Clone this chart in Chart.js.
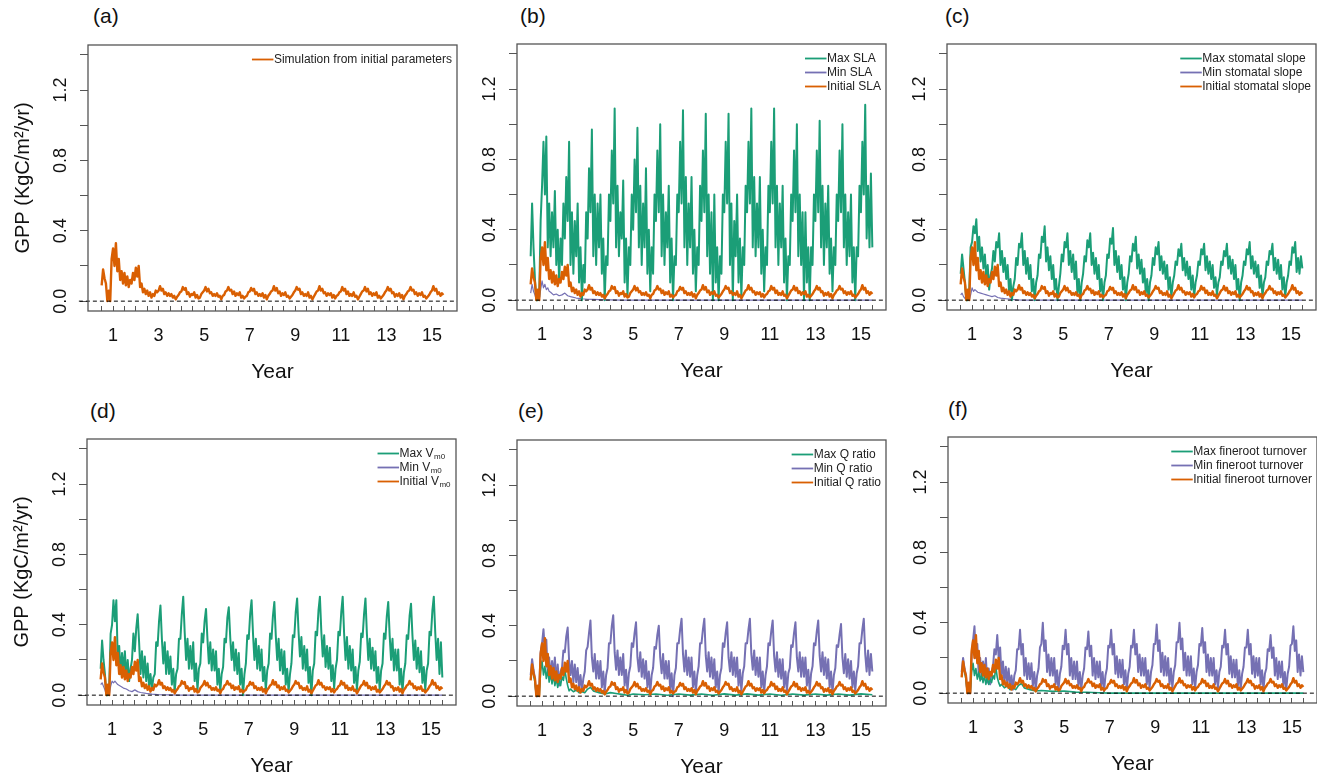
<!DOCTYPE html>
<html><head><meta charset="utf-8">
<script src="https://cdn.jsdelivr.net/npm/chart.js@4.4.1/dist/chart.umd.min.js"></script>
<style>
html,body{margin:0;padding:0;background:#fff;overflow:hidden;width:1317px;height:780px;position:relative;}
canvas{position:absolute;}
.plabel{position:absolute;font:21px 'Liberation Sans',Arial,sans-serif;line-height:24px;color:#111;white-space:nowrap;}
</style></head><body>
<script>
// ---------- axis ticks ----------
const xTickValues = [0.5,1,1.5,2,2.5,3,3.5,4,4.5,5,5.5,6,6.5,7,7.5,8,8.5,9,9.5,10,10.5,11,11.5,12,12.5,13,13.5,14,14.5,15,15.5];
const xLabelValues = [1,3,5,7,9,11,13,15];
const yTickValues = [0,0.2,0.4,0.6,0.8,1.0,1.2,1.4];
const yLabelValues = [0,0.4,0.8,1.2];
const zeroLineX = [-0.5, 16.1];

// ---------- series (chunk 0 = years 0.5-0.94, chunk n = year n, 1/16-year steps) ----------
const initialSim = [
 [0.09,0.18,0.13,0.10,0.0,0.06,0.0,0.24],
 [0.30,0.20,0.33,0.17,0.24,0.12,0.17,0.10,0.16,0.09,0.14,0.08,0.12,0.10,0.16,0.12],
 [0.19,0.14,0.20,0.08,0.10,0.05,0.07,0.04,0.06,0.03,0.05,0.02,0.04,0.03,0.06,0.05],
 [0.06,0.085,0.06,0.07,0.04,0.05,0.03,0.045,0.03,0.04,0.02,0.03,0.01,0.025,0.035,0.05],
 [0.055,0.08,0.065,0.075,0.04,0.05,0.025,0.04,0.035,0.05,0.02,0.035,0.015,0.02,0.04,0.05],
 [0.06,0.08,0.055,0.07,0.045,0.05,0.03,0.04,0.03,0.045,0.025,0.03,0.01,0.03,0.035,0.055],
 [0.06,0.08,0.06,0.065,0.04,0.055,0.03,0.045,0.035,0.05,0.02,0.03,0.015,0.025,0.03,0.05],
 [0.055,0.075,0.06,0.07,0.04,0.05,0.03,0.04,0.03,0.045,0.02,0.035,0.01,0.03,0.04,0.055],
 [0.06,0.085,0.06,0.075,0.045,0.055,0.03,0.045,0.035,0.05,0.025,0.03,0.015,0.025,0.035,0.05],
 [0.06,0.08,0.065,0.07,0.04,0.05,0.03,0.04,0.03,0.05,0.02,0.03,0.01,0.025,0.04,0.055],
 [0.06,0.085,0.06,0.07,0.045,0.05,0.03,0.045,0.035,0.045,0.02,0.035,0.015,0.03,0.035,0.05],
 [0.055,0.08,0.06,0.07,0.04,0.055,0.03,0.04,0.03,0.05,0.025,0.03,0.01,0.025,0.04,0.055],
 [0.06,0.08,0.055,0.07,0.04,0.05,0.03,0.045,0.035,0.05,0.02,0.03,0.015,0.025,0.035,0.05],
 [0.06,0.08,0.06,0.07,0.045,0.05,0.025,0.04,0.03,0.045,0.02,0.035,0.01,0.03,0.04,0.055],
 [0.06,0.08,0.06,0.065,0.04,0.05,0.03,0.045,0.035,0.05,0.025,0.03,0.015,0.025,0.035,0.05],
 [0.06,0.085,0.06,0.07,0.04,0.05,0.03,0.045,0.035]
];
const maxSLA = [
 [0.25,0.55,0.3,0.12,0.0,0.0,0.02,0.45],
 [0.65,0.9,0.6,0.93,0.3,0.55,0.25,0.5,0.3,0.62,0.2,0.4,0.1,0.35,0.2,0.55],
 [0.35,0.7,0.45,0.9,0.2,0.5,0.15,0.45,0.25,0.55,0.1,0.3,0.0,0.2,0.1,0.5],
 [0.35,0.75,0.5,0.97,0.25,0.6,0.2,0.55,0.3,0.6,0.15,0.35,0.0,0.25,0.2,0.6],
 [0.45,0.85,0.55,1.09,0.3,0.65,0.25,0.5,0.35,0.68,0.1,0.35,0.02,0.3,0.2,0.6],
 [0.4,0.8,0.5,0.98,0.3,0.65,0.2,0.55,0.3,0.75,0.15,0.4,0.05,0.3,0.15,0.6],
 [0.45,0.85,0.5,1.0,0.25,0.6,0.2,0.5,0.3,0.65,0.1,0.35,0.0,0.25,0.2,0.6],
 [0.5,0.9,0.55,1.08,0.3,0.7,0.2,0.55,0.3,0.7,0.15,0.4,0.05,0.3,0.2,0.65],
 [0.45,0.85,0.5,1.06,0.25,0.6,0.15,0.5,0.0,0.6,0.1,0.3,0.0,0.25,0.15,0.6],
 [0.5,0.9,0.55,1.06,0.2,0.55,0.0,0.45,0.25,0.6,0.1,0.35,0.02,0.3,0.2,0.65],
 [0.5,0.9,0.55,1.09,0.3,0.7,0.25,0.55,0.3,0.7,0.15,0.4,0.05,0.3,0.2,0.65],
 [0.5,0.9,0.55,1.09,0.3,0.65,0.2,0.55,0.3,0.65,0.1,0.35,0.0,0.25,0.2,0.6],
 [0.45,0.85,0.5,1.0,0.25,0.6,0.2,0.5,0.0,0.5,0.1,0.3,0.0,0.3,0.2,0.6],
 [0.45,0.85,0.5,1.02,0.3,0.65,0.2,0.55,0.3,0.65,0.15,0.35,0.05,0.3,0.2,0.6],
 [0.45,0.85,0.5,1.0,0.3,0.6,0.2,0.5,0.25,0.6,0.1,0.3,0.0,0.3,0.25,0.65],
 [0.5,0.9,0.6,1.11,0.35,0.65,0.3,0.72,0.3]
];
const minSLA_t = [0.5,0.5625,0.625,0.6875,0.75,0.875,0.9375,1.0,1.0625,1.125,1.1875,1.25,1.3125,1.375,1.5,1.625,1.75,1.875,2.0,2.125,2.25,2.5,2.75,3.0,3.25,3.5,4.0,4.5,15.5];
const minSLA   = [0.04,0.09,0.05,0.03,0.0,0.0,0.06,0.11,0.07,0.09,0.06,0.07,0.05,0.045,0.03,0.035,0.025,0.03,0.04,0.025,0.02,0.012,0.008,0.005,0.004,0.003,0.001,0,0];

const maxStomatal = [
 [0.15,0.26,0.18,0.1,0.0,0.0,0.05,0.3],
 [0.33,0.42,0.38,0.46,0.28,0.36,0.22,0.3,0.18,0.26,0.12,0.2,0.06,0.14,0.18,0.28],
 [0.22,0.33,0.3,0.38,0.2,0.28,0.16,0.24,0.12,0.2,0.05,0.12,0.0,0.08,0.12,0.24],
 [0.2,0.32,0.3,0.38,0.2,0.28,0.15,0.24,0.12,0.2,0.05,0.12,0.0,0.1,0.14,0.26],
 [0.24,0.36,0.33,0.42,0.22,0.3,0.17,0.25,0.12,0.2,0.06,0.12,0.0,0.08,0.15,0.26],
 [0.22,0.33,0.3,0.38,0.2,0.28,0.16,0.26,0.12,0.22,0.04,0.12,0.0,0.1,0.15,0.25],
 [0.22,0.34,0.3,0.38,0.2,0.27,0.15,0.24,0.12,0.2,0.05,0.12,0.0,0.1,0.14,0.26],
 [0.24,0.35,0.32,0.41,0.2,0.28,0.16,0.25,0.12,0.2,0.06,0.13,0.0,0.1,0.15,0.25],
 [0.22,0.32,0.28,0.36,0.18,0.26,0.15,0.23,0.1,0.18,0.04,0.12,0.0,0.1,0.14,0.24],
 [0.2,0.3,0.26,0.33,0.17,0.25,0.15,0.22,0.12,0.2,0.06,0.13,0.02,0.1,0.14,0.22],
 [0.2,0.29,0.25,0.32,0.17,0.24,0.14,0.22,0.12,0.19,0.06,0.14,0.02,0.1,0.14,0.22],
 [0.2,0.29,0.26,0.32,0.17,0.25,0.15,0.22,0.12,0.2,0.07,0.13,0.03,0.1,0.13,0.22],
 [0.2,0.28,0.25,0.32,0.18,0.25,0.15,0.23,0.12,0.2,0.06,0.12,0.0,0.1,0.14,0.22],
 [0.2,0.29,0.26,0.33,0.18,0.25,0.15,0.22,0.13,0.2,0.07,0.14,0.02,0.1,0.13,0.22],
 [0.2,0.28,0.26,0.32,0.17,0.24,0.15,0.23,0.12,0.2,0.06,0.13,0.02,0.1,0.14,0.22],
 [0.2,0.3,0.27,0.33,0.16,0.24,0.15,0.25,0.18]
];
const minStomatal_t = [0.5,0.5625,0.625,0.6875,0.75,0.875,0.9375,1.0,1.0625,1.125,1.25,1.375,1.5,1.625,1.75,1.875,2.0,2.125,2.25,2.5,2.75,3.0,3.5,15.5];
const minStomatal   = [0.03,0.04,0.02,0.01,0.0,0.0,0.03,0.07,0.05,0.06,0.045,0.04,0.035,0.03,0.025,0.02,0.025,0.015,0.012,0.008,0.004,0.002,0.0,0.0];

const maxVm0 = [
 [0.15,0.31,0.2,0.12,0.0,0.0,0.05,0.35],
 [0.4,0.54,0.42,0.54,0.2,0.28,0.12,0.24,0.14,0.25,0.1,0.2,0.08,0.15,0.2,0.35],
 [0.25,0.38,0.46,0.3,0.12,0.25,0.1,0.22,0.08,0.18,0.05,0.12,0.03,0.1,0.12,0.3],
 [0.28,0.42,0.51,0.32,0.18,0.3,0.12,0.25,0.12,0.22,0.06,0.15,0.02,0.12,0.15,0.32],
 [0.32,0.46,0.56,0.36,0.2,0.32,0.15,0.28,0.15,0.3,0.08,0.18,0.03,0.15,0.18,0.35],
 [0.3,0.42,0.49,0.32,0.18,0.3,0.14,0.26,0.14,0.25,0.06,0.15,0.02,0.12,0.16,0.32],
 [0.3,0.44,0.5,0.33,0.2,0.3,0.14,0.26,0.12,0.24,0.06,0.15,0.0,0.12,0.18,0.34],
 [0.32,0.46,0.54,0.35,0.2,0.32,0.15,0.28,0.14,0.26,0.08,0.16,0.03,0.14,0.18,0.35],
 [0.32,0.45,0.53,0.34,0.2,0.32,0.14,0.26,0.12,0.25,0.06,0.15,0.02,0.12,0.18,0.34],
 [0.33,0.47,0.55,0.36,0.22,0.33,0.15,0.28,0.14,0.26,0.07,0.16,0.0,0.14,0.18,0.36],
 [0.34,0.48,0.56,0.36,0.22,0.34,0.16,0.28,0.15,0.27,0.08,0.17,0.04,0.15,0.2,0.36],
 [0.34,0.47,0.56,0.35,0.2,0.33,0.15,0.28,0.14,0.26,0.07,0.16,0.03,0.14,0.19,0.35],
 [0.33,0.46,0.55,0.35,0.2,0.32,0.15,0.27,0.14,0.25,0.07,0.16,0.03,0.14,0.18,0.35],
 [0.32,0.45,0.53,0.34,0.2,0.32,0.14,0.26,0.14,0.26,0.06,0.15,0.02,0.13,0.18,0.34],
 [0.32,0.45,0.52,0.34,0.2,0.31,0.15,0.27,0.13,0.25,0.07,0.16,0.03,0.14,0.18,0.36],
 [0.34,0.48,0.56,0.36,0.2,0.32,0.12,0.3,0.1]
];
const minVm0_t = [0.5,0.5625,0.625,0.6875,0.75,0.875,0.9375,1.0,1.0625,1.125,1.25,1.375,1.5,1.625,1.75,1.875,2.0,2.125,2.25,2.5,2.75,3.0,3.5,4.0,15.5];
const minVm0   = [0.06,0.07,0.05,0.03,0.0,0.0,0.05,0.08,0.07,0.08,0.06,0.05,0.04,0.035,0.025,0.02,0.03,0.02,0.015,0.01,0.006,0.003,0.001,0,0];

const maxQ_t = [0.5,0.5625,0.625,0.6875,0.75,0.875,0.9375,1.0,1.0625,1.125,1.1875,1.25,1.3125,1.375,1.4375,1.5,1.5625,1.625,1.6875,1.75,1.8125,1.875,1.9375,2.0,2.0625,2.125,2.1875,2.25,2.375,2.5,2.625,2.75,2.875,3.0,3.125,3.25,3.5,3.75,4.0,4.25,4.5,4.75,5.0,5.5,6.0,6.5,7.0,7.5,8.0,8.5,9.0,9.5,10.0,10.5,11.0,11.5,12.0,12.5,13.0,13.5,14.0,14.5,15.0,15.5];
const maxQ   = [0.1,0.17,0.12,0.08,0.0,0.0,0.14,0.2,0.12,0.17,0.1,0.15,0.08,0.13,0.07,0.12,0.06,0.1,0.05,0.09,0.06,0.11,0.09,0.15,0.1,0.06,0.03,0.04,0.025,0.035,0.02,0.025,0.02,0.04,0.05,0.03,0.02,0.012,0.02,0.015,0.01,0.005,0.012,0.008,0.012,0.005,0.012,0.006,0.012,0.005,0.013,0.006,0.013,0.006,0.012,0.005,0.012,0.006,0.012,0.006,0.012,0.006,0.013,0.008];
const minQ = [
 [0.12,0.21,0.15,0.1,0.0,0.0,0.05,0.25],
 [0.3,0.38,0.25,0.32,0.12,0.22,0.1,0.2,0.12,0.22,0.08,0.18,0.06,0.14,0.16,0.26],
 [0.25,0.34,0.39,0.2,0.12,0.2,0.08,0.18,0.08,0.16,0.05,0.12,0.03,0.1,0.14,0.26],
 [0.28,0.36,0.43,0.22,0.14,0.24,0.1,0.2,0.1,0.2,0.05,0.14,0.02,0.12,0.16,0.3],
 [0.3,0.4,0.46,0.25,0.15,0.26,0.12,0.22,0.12,0.24,0.06,0.15,0.03,0.13,0.17,0.3],
 [0.28,0.36,0.42,0.22,0.14,0.25,0.11,0.21,0.1,0.2,0.05,0.14,0.02,0.12,0.16,0.28],
 [0.27,0.35,0.4,0.22,0.13,0.24,0.1,0.2,0.1,0.2,0.04,0.13,0.0,0.12,0.16,0.3],
 [0.3,0.38,0.44,0.24,0.14,0.26,0.12,0.22,0.11,0.22,0.05,0.14,0.02,0.12,0.17,0.3],
 [0.3,0.38,0.44,0.23,0.14,0.25,0.11,0.22,0.1,0.21,0.05,0.14,0.02,0.12,0.16,0.3],
 [0.28,0.36,0.42,0.22,0.14,0.25,0.12,0.22,0.11,0.22,0.06,0.15,0.03,0.13,0.17,0.3],
 [0.3,0.38,0.44,0.24,0.15,0.26,0.12,0.22,0.11,0.22,0.05,0.14,0.02,0.12,0.17,0.3],
 [0.29,0.37,0.43,0.23,0.14,0.25,0.11,0.21,0.1,0.21,0.05,0.14,0.03,0.13,0.16,0.29],
 [0.28,0.36,0.42,0.22,0.14,0.25,0.11,0.22,0.11,0.22,0.06,0.15,0.03,0.13,0.17,0.3],
 [0.29,0.37,0.43,0.23,0.14,0.25,0.12,0.22,0.1,0.21,0.05,0.14,0.02,0.12,0.16,0.29],
 [0.28,0.35,0.41,0.22,0.13,0.24,0.11,0.21,0.1,0.2,0.05,0.14,0.03,0.13,0.17,0.3],
 [0.3,0.38,0.44,0.24,0.14,0.26,0.12,0.24,0.14]
];

const maxFineroot_t = [0.5,0.5625,0.625,0.6875,0.75,0.875,0.9375,1.0,1.0625,1.125,1.1875,1.25,1.3125,1.375,1.4375,1.5,1.5625,1.625,1.6875,1.75,1.8125,1.875,1.9375,2.0,2.0625,2.125,2.1875,2.25,2.375,2.5,2.625,2.75,2.875,3.0,3.125,3.25,3.5,3.75,4.0,4.5,5.0,5.5,6.0,6.5,7.0,15.5];
const maxFineroot   = [0.1,0.16,0.12,0.08,0.0,0.0,0.12,0.17,0.1,0.14,0.08,0.12,0.07,0.11,0.06,0.1,0.05,0.09,0.05,0.08,0.06,0.1,0.08,0.15,0.09,0.06,0.04,0.05,0.03,0.04,0.02,0.03,0.02,0.045,0.055,0.03,0.02,0.012,0.015,0.01,0.012,0.006,0.005,0.002,0.0,0.0];
const minFineroot = [
 [0.12,0.2,0.14,0.1,0.0,0.0,0.0,0.22],
 [0.3,0.38,0.2,0.28,0.1,0.2,0.08,0.18,0.1,0.2,0.06,0.14,0.05,0.12,0.15,0.25],
 [0.22,0.33,0.2,0.26,0.1,0.18,0.06,0.15,0.06,0.14,0.03,0.1,0.02,0.1,0.13,0.25],
 [0.25,0.36,0.22,0.28,0.1,0.2,0.08,0.17,0.08,0.17,0.04,0.12,0.02,0.1,0.14,0.26],
 [0.28,0.4,0.24,0.3,0.12,0.22,0.1,0.2,0.1,0.2,0.05,0.13,0.02,0.11,0.15,0.27],
 [0.25,0.36,0.22,0.28,0.1,0.2,0.08,0.18,0.08,0.18,0.04,0.12,0.02,0.1,0.14,0.26],
 [0.25,0.35,0.21,0.27,0.1,0.2,0.08,0.18,0.09,0.18,0.04,0.12,0.01,0.1,0.14,0.27],
 [0.26,0.36,0.22,0.28,0.11,0.21,0.09,0.19,0.09,0.19,0.05,0.13,0.02,0.11,0.15,0.27],
 [0.26,0.36,0.22,0.28,0.12,0.22,0.1,0.2,0.1,0.2,0.05,0.13,0.03,0.12,0.16,0.28],
 [0.28,0.39,0.24,0.3,0.12,0.23,0.1,0.21,0.1,0.2,0.05,0.14,0.03,0.12,0.16,0.29],
 [0.29,0.4,0.25,0.31,0.13,0.23,0.1,0.21,0.1,0.21,0.05,0.14,0.03,0.12,0.16,0.28],
 [0.27,0.37,0.23,0.29,0.12,0.22,0.1,0.2,0.1,0.2,0.05,0.13,0.03,0.12,0.15,0.27],
 [0.26,0.36,0.22,0.28,0.11,0.21,0.09,0.19,0.09,0.19,0.04,0.13,0.02,0.11,0.15,0.26],
 [0.26,0.36,0.22,0.28,0.11,0.21,0.09,0.2,0.1,0.2,0.05,0.13,0.02,0.11,0.14,0.25],
 [0.24,0.33,0.2,0.26,0.1,0.2,0.08,0.18,0.09,0.18,0.04,0.12,0.02,0.11,0.15,0.27],
 [0.28,0.38,0.24,0.3,0.12,0.22,0.1,0.21,0.12]
];

// ---------- helpers ----------
const STEP = 1/16;
function fromChunks(chunks){
  const pts = [];
  chunks.forEach((c, j) => { const start = j === 0 ? 0.5 : j; c.forEach((v, k) => pts.push({x: start + k*STEP, y: v})); });
  return pts;
}
function fromPairs(ts, vs){ return ts.map((t, i) => ({x: t, y: vs[i]})); }

const FONT = "'Liberation Sans', Arial, Helvetica, sans-serif";
const GREEN = '#1b9e77', PURPLE = '#7570b3', ORANGE = '#d95f02';
const W = 369, H = 266, PAD_L = 88, PAD_R = 10, PAD_T = 45, PAD_B = 75;
const BIG_W = 2.0, SMALL_W = 1.2, INIT_W = 2.4;

function lineDS(label, pts, color, width){
  return {label, data: pts, borderColor: color, backgroundColor: color, borderWidth: width,
          pointRadius: 0, pointHoverRadius: 0, fill: false, tension: 0, borderJoinStyle: 'round'};
}
function zeroDS(){
  return {label: 'zero', data: zeroLineX.map(x => ({x, y: 0})), borderColor: '#000', borderWidth: 1,
          borderDash: [4, 3], pointRadius: 0, fill: false, clip: false};
}

const boxPlugin = {
  id: 'boxPlugin',
  afterDatasetsDraw(chart){
    const {ctx, chartArea: a} = chart;
    ctx.save(); ctx.strokeStyle = '#555'; ctx.lineWidth = 1.3;
    ctx.strokeRect(a.left, a.top, a.right - a.left, a.bottom - a.top);
    ctx.restore();
  }
};
const insetLegend = {
  id: 'insetLegend',
  afterDraw(chart, args, opts){
    if (!opts.items) return;
    const ctx = chart.ctx, a = chart.chartArea;
    const mainFont = "12px " + FONT, subFont = "8px " + FONT;
    ctx.save();
    const widths = opts.items.map(it => {
      ctx.font = mainFont; let w = ctx.measureText(it.text).width;
      if (it.sub){ ctx.font = subFont; w += ctx.measureText(it.sub).width + 1; }
      return w;
    });
    const tx = a.right - 5 - Math.max(...widths);
    opts.items.forEach((it, i) => {
      const y = a.top + 14.5 + i*14;
      ctx.strokeStyle = chart.data.datasets[it.ds].borderColor; ctx.lineWidth = 1.8;
      ctx.beginPath(); ctx.moveTo(tx - 22, y); ctx.lineTo(tx - 0.5, y); ctx.stroke();
      ctx.fillStyle = '#222'; ctx.font = mainFont; ctx.textAlign = 'left'; ctx.textBaseline = 'middle';
      ctx.fillText(it.text, tx, y);
      if (it.sub){ const w = ctx.measureText(it.text).width; ctx.font = subFont; ctx.fillText(it.sub, tx + w + 0.5, y + 3); }
    });
    ctx.restore();
  }
};

function threeSet(maxPts, minPts, labels, maxW, minW){
  return [zeroDS(), lineDS(labels[2], fromChunks(initialSim), ORANGE, INIT_W),
          lineDS(labels[0], maxPts, GREEN, maxW), lineDS(labels[1], minPts, PURPLE, minW)];
}
const legend3 = (texts, sub) => [{ds: 2, text: texts[0], sub}, {ds: 3, text: texts[1], sub}, {ds: 1, text: texts[2], sub}];

const panels = [
  {L: 88, T: 45, label: '(a)', lx: 93, ly: 4, yTitle: true,
   datasets: [zeroDS(), lineDS('Simulation from initial parameters', fromChunks(initialSim), ORANGE, INIT_W)],
   legend: [{ds: 1, text: 'Simulation from initial parameters'}]},
  {L: 517, T: 44, label: '(b)', lx: 520, ly: 4, yTitle: false,
   datasets: threeSet(fromChunks(maxSLA), fromPairs(minSLA_t, minSLA), ['Max SLA','Min SLA','Initial SLA'], BIG_W, SMALL_W),
   legend: legend3(['Max SLA','Min SLA','Initial SLA'])},
  {L: 947, T: 44, label: '(c)', lx: 945, ly: 4, yTitle: false,
   datasets: threeSet(fromChunks(maxStomatal), fromPairs(minStomatal_t, minStomatal), ['Max stomatal slope','Min stomatal slope','Initial stomatal slope'], BIG_W, SMALL_W),
   legend: legend3(['Max stomatal slope','Min stomatal slope','Initial stomatal slope'])},
  {L: 87, T: 439, label: '(d)', lx: 90, ly: 399, yTitle: true,
   datasets: threeSet(fromChunks(maxVm0), fromPairs(minVm0_t, minVm0), ['Max Vm0','Min Vm0','Initial Vm0'], BIG_W, SMALL_W),
   legend: legend3(['Max V','Min V','Initial V'], 'm0')},
  {L: 517, T: 440, label: '(e)', lx: 518, ly: 399, yTitle: false,
   datasets: threeSet(fromPairs(maxQ_t, maxQ), fromChunks(minQ), ['Max Q ratio','Min Q ratio','Initial Q ratio'], 1.6, BIG_W),
   legend: legend3(['Max Q ratio','Min Q ratio','Initial Q ratio'])},
  {L: 948, T: 437, label: '(f)', lx: 948, ly: 397, yTitle: false,
   datasets: threeSet(fromPairs(maxFineroot_t, maxFineroot), fromChunks(minFineroot), ['Max fineroot turnover','Min fineroot turnover','Initial fineroot turnover'], 1.6, BIG_W),
   legend: legend3(['Max fineroot turnover','Min fineroot turnover','Initial fineroot turnover'])}
];

panels.forEach(p => {
  const lab = document.createElement('div');
  lab.className = 'plabel'; lab.textContent = p.label;
  lab.style.left = p.lx + 'px'; lab.style.top = p.ly + 'px';
  document.body.appendChild(lab);

  const cv = document.createElement('canvas');
  cv.width = W + PAD_L + PAD_R; cv.height = H + PAD_T + PAD_B;
  cv.style.left = (p.L - PAD_L) + 'px'; cv.style.top = (p.T - PAD_T) + 'px';
  cv.style.width = cv.width + 'px'; cv.style.height = cv.height + 'px';
  document.body.appendChild(cv);

  new Chart(cv, {
    type: 'line',
    data: {datasets: p.datasets},
    options: {
      responsive: false, animation: false, events: [],
      layout: {padding: {top: PAD_T, right: PAD_R, left: 0, bottom: 0}},
      plugins: {legend: {display: false}, tooltip: {enabled: false}, title: {display: false},
                insetLegend: {items: p.legend}},
      scales: {
        x: {type: 'linear', min: -0.1, max: 16.1,
            afterBuildTicks: s => { s.ticks = xTickValues.map(v => ({value: v})); },
            afterFit: s => { s.height = PAD_B; },
            grid: {display: true, drawOnChartArea: false, drawTicks: true, tickLength: -5, color: '#555', lineWidth: 1},
            border: {display: false},
            ticks: {autoSkip: false, maxRotation: 0, minRotation: 0, padding: 19, color: '#111',
                    font: {size: 18, family: FONT},
                    callback: v => xLabelValues.includes(v) ? String(v) : ''},
            title: {display: true, text: 'Year', color: '#111', font: {size: 21, family: FONT, lineHeight: 1.2},
                    padding: {top: 0, bottom: 1.4}}},
        y: {type: 'linear', min: -0.056, max: 1.456,
            afterBuildTicks: s => { s.ticks = yTickValues.map(v => ({value: v})); },
            afterFit: s => { s.width = PAD_L; },
            grid: {display: true, drawOnChartArea: false, drawTicks: true, tickLength: 8, color: '#555', lineWidth: 1},
            border: {display: false},
            ticks: {autoSkip: false, minRotation: 90, maxRotation: 90, crossAlign: 'center', padding: 6.5, color: '#111',
                    font: {size: 18, family: FONT},
                    callback: v => yLabelValues.some(l => Math.abs(l - v) < 1e-9) ? Number(v).toFixed(1) : ''},
            title: {display: p.yTitle, text: 'GPP (KgC/m²/yr)', color: '#111', font: {size: 20, family: FONT, lineHeight: 1.2},
                    padding: {top: 11, bottom: 0}}}
      }
    },
    plugins: [boxPlugin, insetLegend]
  });
});
</script>
</body></html>
